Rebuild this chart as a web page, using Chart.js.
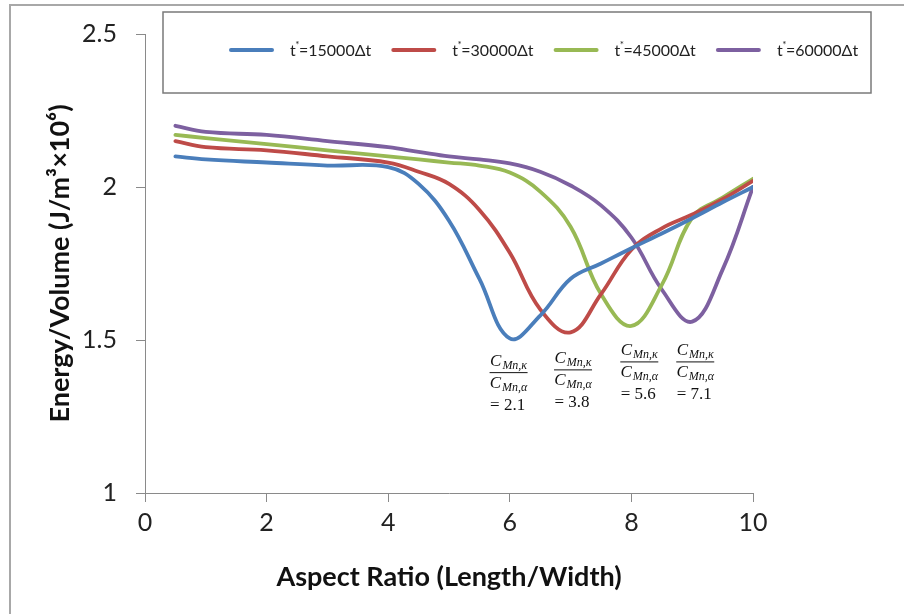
<!DOCTYPE html>
<html>
<head>
<meta charset="utf-8">
<script src="https://cdn.jsdelivr.net/npm/chart.js@4/dist/chart.umd.min.js"></script>
<style>
  html, body { margin: 0; padding: 0; background: #ffffff; }
  #wrap { width: 904px; height: 614px; position: relative; }
</style>
</head>
<body>
<div id="wrap"><canvas id="c" width="904" height="614"></canvas></div>
<script>
// ---- data ----
const aspectRatio = [0.5, 1, 2, 3, 4, 4.5, 5, 5.5, 6, 6.5, 7, 7.5, 8, 8.5, 9, 9.5, 10];
const energy15000 = [2.10, 2.09, 2.08, 2.07, 2.065, 2.01, 1.89, 1.70, 1.505, 1.58, 1.70, 1.75, 1.80, 1.848, 1.898, 1.95, 2.00];
const energy30000 = [2.15, 2.13, 2.12, 2.10, 2.08, 2.05, 2.01, 1.925, 1.785, 1.60, 1.525, 1.65, 1.795, 1.865, 1.91, 1.96, 2.02];
const energy45000 = [2.17, 2.16, 2.14, 2.12, 2.10, 2.09, 2.08, 2.07, 2.047, 1.985, 1.87, 1.65, 1.546, 1.68, 1.90, 1.965, 2.027];
const energy60000 = [2.20, 2.18, 2.17, 2.15, 2.13, 2.115, 2.10, 2.09, 2.077, 2.05, 2.005, 1.94, 1.835, 1.665, 1.56, 1.73, 2.00];
const seriesSteps = ['15000', '30000', '45000', '60000'];
const ratioValues = ['2.1', '3.8', '5.6', '7.1'];
const xTicks = [0, 2, 4, 6, 8, 10];
const yTicks = [1, 1.5, 2, 2.5];

// annotation anchors (data coords of the fraction bar centre)
const annoX = [5.98, 7.04, 8.13, 9.05];
const annoY = [1.395, 1.404, 1.430, 1.430];

const colors = ['#4A7EBB', '#BE4B48', '#98B954', '#7D60A0'];
const seriesValues = [energy15000, energy30000, energy45000, energy60000];

const datasets = seriesValues.map((vals, i) => ({
  label: 't*=' + seriesSteps[i] + 'Δt',
  data: aspectRatio.map((x, j) => ({ x: x, y: vals[j] })),
  borderColor: colors[i],
  backgroundColor: colors[i],
  borderWidth: 3.8,
  pointRadius: 0,
  fill: false,
  tension: 0.4,
  borderCapStyle: 'round'
}));

const frame = {
  id: 'frame',
  beforeDraw(chart) {
    const ctx = chart.ctx;
    ctx.save();
    ctx.fillStyle = '#ffffff';
    ctx.fillRect(0, 0, chart.width, chart.height);
    ctx.strokeStyle = '#a8a8a8';
    ctx.lineWidth = 2;
    ctx.beginPath();
    ctx.moveTo(10, chart.height);
    ctx.lineTo(10, 5);
    ctx.lineTo(chart.width, 5);
    ctx.stroke();
    ctx.restore();
  }
};

const legendBox = {
  id: 'legendBox',
  afterDraw(chart) {
    const ctx = chart.ctx;
    ctx.save();
    ctx.strokeStyle = '#7a7a7a';
    ctx.lineWidth = 1.5;
    ctx.strokeRect(163, 12, 708, 81);
    const y = 50;
    chart.data.datasets.forEach((ds, i) => {
      const x0 = 230 + i * 162.3;
      ctx.strokeStyle = ds.borderColor;
      ctx.lineWidth = 4;
      ctx.lineCap = 'round';
      ctx.beginPath();
      ctx.moveTo(x0 + 1, y);
      ctx.lineTo(x0 + 42, y);
      ctx.stroke();
      ctx.fillStyle = '#222';
      ctx.textBaseline = 'alphabetic';
      ctx.textAlign = 'left';
      let tx = x0 + 60;
      ctx.font = '16px Lato';
      ctx.fillText('t', tx, y + 6);
      tx += ctx.measureText('t').width - 0.5;
      ctx.font = '10px Lato';
      ctx.fillText('*', tx, y - 2);
      tx += ctx.measureText('*').width - 0.5;
      ctx.font = '16px Lato';
      ctx.fillText('=' + seriesSteps[i] + 'Δt', tx, y + 6);
    });
    ctx.restore();
  }
};

function drawC(ctx, cx, baseline, sub) {
  ctx.font = 'italic 17px "Liberation Serif"';
  const wC = ctx.measureText('C').width;
  ctx.font = 'italic 12px "Liberation Serif"';
  const wS = ctx.measureText(sub).width;
  const w = wC + wS + 1;
  let x = cx - w / 2;
  ctx.font = 'italic 17px "Liberation Serif"';
  ctx.fillText('C', x, baseline);
  ctx.font = 'italic 12px "Liberation Serif"';
  ctx.fillText(sub, x + wC + 1, baseline + 3);
}

const fractions = {
  id: 'fractions',
  afterDatasetsDraw(chart) {
    const ctx = chart.ctx;
    const xs = chart.scales.x, ys = chart.scales.y;
    ctx.save();
    ctx.fillStyle = '#111';
    ctx.strokeStyle = '#111';
    ctx.textBaseline = 'alphabetic';
    ctx.textAlign = 'left';
    ratioValues.forEach((r, i) => {
      const cx = xs.getPixelForValue(annoX[i]);
      const by = ys.getPixelForValue(annoY[i]);
      drawC(ctx, cx, by - 6, 'Mn,κ');
      ctx.lineWidth = 1;
      ctx.beginPath();
      ctx.moveTo(cx - 19, by + 0.5);
      ctx.lineTo(cx + 19, by + 0.5);
      ctx.stroke();
      drawC(ctx, cx, by + 16, 'Mn,α');
      ctx.font = '17px "Liberation Serif"';
      const t = '= ' + r;
      const w = ctx.measureText(t).width;
      ctx.fillText(t, cx - w / 2 - 1, by + 38);
    });
    ctx.restore();
  }
};

const axisColor = '#8a8a8a';

new Chart(document.getElementById('c'), {
  type: 'line',
  data: { datasets: datasets },
  plugins: [frame, legendBox, fractions],
  options: {
    responsive: false,
    animation: false,
    devicePixelRatio: 1,
    layout: { padding: { left: 10, top: 33, right: 151, bottom: 0 } },
    plugins: {
      legend: { display: false },
      tooltip: { enabled: false }
    },
    scales: {
      x: {
        type: 'linear',
        min: 0, max: 10,
        afterFit(scale) { scale.height = 121; },
        afterBuildTicks(scale) { scale.ticks = xTicks.map(v => ({ value: v })); },
        ticks: { color: '#222', font: { family: 'Lato', size: 25 }, padding: 6, maxRotation: 0 },
        grid: { display: true, drawOnChartArea: false, drawTicks: true, tickLength: 9, color: axisColor },
        border: { display: true, color: axisColor, width: 1 },
        title: {
          display: true,
          text: 'Aspect Ratio (Length/Width)',
          color: '#111',
          font: { family: 'Lato', size: 27, weight: 'bold' },
          padding: { top: 0, bottom: 21 }
        }
      },
      y: {
        type: 'linear',
        min: 1, max: 2.5,
        afterFit(scale) { scale.width = 135; },
        afterBuildTicks(scale) { scale.ticks = yTicks.map(v => ({ value: v })); },
        ticks: { color: '#222', font: { family: 'Lato', size: 25 }, padding: 19,
                 callback: v => String(v) },
        grid: { display: true, drawOnChartArea: false, drawTicks: true, tickLength: 9, color: axisColor },
        border: { display: true, color: axisColor, width: 1 },
        title: {
          display: true,
          text: 'Energy/Volume (J/m³×10⁶)',
          color: '#111',
          font: { family: 'Lato', size: 27, weight: 'bold' },
          padding: { top: 34, bottom: 0 }
        }
      }
    }
  }
});
</script>
</body>
</html>
